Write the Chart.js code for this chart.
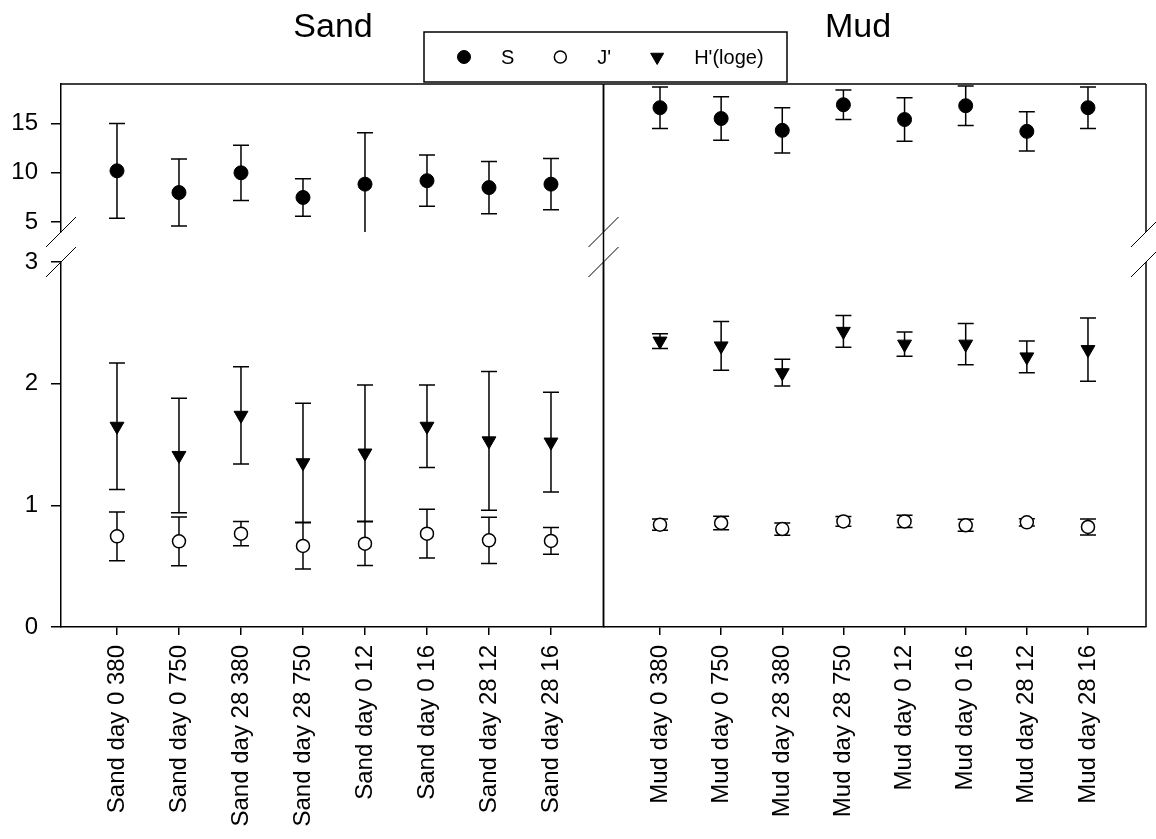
<!DOCTYPE html>
<html>
<head>
<meta charset="utf-8">
<script src="https://cdn.jsdelivr.net/npm/chart.js@4"></script>
<style>
    body { margin: 0; background: #fff; }
    #wrap { width: 1156px; height: 839px; }
</style>
</head>
<body>
<div id="wrap"><canvas id="diversityChart" width="1156" height="839"></canvas></div>
<script>
const sandLabels = ['Sand day 0 380', 'Sand day 0 750', 'Sand day 28 380', 'Sand day 28 750',
    'Sand day 0 12', 'Sand day 0 16', 'Sand day 28 12', 'Sand day 28 16'];
const mudLabels = ['Mud day 0 380', 'Mud day 0 750', 'Mud day 28 380', 'Mud day 28 750',
    'Mud day 0 12', 'Mud day 0 16', 'Mud day 28 12', 'Mud day 28 16'];

// S (species number), upper part of the broken axis
const sandS = [10.2, 8.0, 10.0, 7.5, 8.85, 9.2, 8.5, 8.85];
const sandSErr = [4.8, 3.4, 2.8, 1.9, 5.2, 2.6, 2.65, 2.6];
const mudS = [16.6, 15.5, 14.3, 16.9, 15.4, 16.8, 14.2, 16.6];
const mudSErr = [2.1, 2.2, 2.3, 1.5, 2.2, 2.0, 2.0, 2.1];

// J' (evenness)
const sandJ = [0.745, 0.704, 0.767, 0.666, 0.685, 0.767, 0.712, 0.707];
const sandJErr = [0.2, 0.2, 0.1, 0.19, 0.18, 0.2, 0.19, 0.11];
const mudJ = [0.841, 0.855, 0.805, 0.868, 0.868, 0.836, 0.86, 0.822];
const mudJErr = [0.046, 0.055, 0.05, 0.04, 0.05, 0.05, 0.03, 0.065];

// H'(loge)
const sandH = [1.65, 1.41, 1.74, 1.35, 1.43, 1.65, 1.53, 1.52];
const sandHErr = [0.52, 0.47, 0.40, 0.49, 0.56, 0.34, 0.57, 0.41];
const mudH = [2.35, 2.31, 2.09, 2.43, 2.325, 2.325, 2.22, 2.28];
const mudHErr = [0.06, 0.2, 0.11, 0.13, 0.1, 0.17, 0.13, 0.26];

const upperTicks = [5, 10, 15];
const lowerTicks = [0, 1, 2, 3];
const panelTitles = ['Sand', 'Mud'];

const FONT = 'Arial, "Liberation Sans", sans-serif';
Chart.defaults.color = '#000';
Chart.defaults.font.family = FONT;

const toPoints = arr => arr.map((v, i) => ({ x: i + 1, y: v }));

const styleS = { pointStyle: 'circle', pointRadius: 7, backgroundColor: '#000', borderColor: '#000', borderWidth: 1 };
const styleJ = { pointStyle: 'circle', pointRadius: 6.5, backgroundColor: '#fff', borderColor: '#000', borderWidth: 1.5 };
const styleH = { pointStyle: 'triangle', pointRadius: 8, pointRotation: 180, backgroundColor: '#000', borderColor: '#000', borderWidth: 1 };

// error bars, drawn before the markers so the open circles cover them
const errorBars = {
    id: 'errorBars',
    beforeDatasetsDraw(chart) {
        const ctx = chart.ctx;
        ctx.save();
        ctx.strokeStyle = '#000';
        ctx.lineWidth = 1.5;
        chart.data.datasets.forEach((ds, di) => {
            const meta = chart.getDatasetMeta(di);
            const yScale = chart.scales[ds.yAxisID];
            meta.data.forEach((pt, i) => {
                const v = ds.data[i].y, e = ds.errors[i];
                let top = yScale.getPixelForValue(v + e);
                let bot = yScale.getPixelForValue(v - e);
                const topCut = top < yScale.top, botCut = bot > yScale.bottom;
                top = Math.max(top, yScale.top);
                bot = Math.min(bot, yScale.bottom);
                ctx.beginPath();
                ctx.moveTo(pt.x, top);
                ctx.lineTo(pt.x, bot);
                if (!topCut) { ctx.moveTo(pt.x - 8, top); ctx.lineTo(pt.x + 8, top); }
                if (!botCut) { ctx.moveTo(pt.x - 8, bot); ctx.lineTo(pt.x + 8, bot); }
                ctx.stroke();
            });
        });
        ctx.restore();
    }
};

// panel frames, axis breaks, titles and the boxed legend
const decorations = {
    id: 'decorations',
    afterDraw(chart) {
        const { ctx, chartArea } = chart;
        const { xs, xm, yUp, yLow } = chart.scales;
        const top = chartArea.top, bottom = chartArea.bottom;
        const line = (x1, y1, x2, y2) => { ctx.beginPath(); ctx.moveTo(x1, y1); ctx.lineTo(x2, y2); ctx.stroke(); };

        ctx.save();
        ctx.strokeStyle = '#000';
        ctx.lineWidth = 1.5;
        line(xs.left, top, xs.right, top);
        line(xs.right, top, xs.right, bottom);
        line(xm.left, top, xm.right, top);
        [xm.left, xm.right].forEach(x => {
            line(x, top, x, yUp.bottom);
            line(x, yLow.top, x, bottom);
        });
        ctx.lineWidth = 1;
        [xs.left, xm.left, xm.right].forEach(x => {
            [yUp.bottom, yLow.top].forEach(y => line(x - 15, y + 15, x + 15, y - 15));
        });

        // titles
        ctx.fillStyle = '#000';
        ctx.font = '34px ' + FONT;
        ctx.textAlign = 'center';
        ctx.textBaseline = 'middle';
        ctx.fillText(panelTitles[0], 333, 28);
        ctx.fillText(panelTitles[1], 858, 28);

        // legend
        ctx.fillStyle = '#fff';
        ctx.fillRect(424, 32, 363, 50);
        ctx.lineWidth = 1.5;
        ctx.strokeRect(424, 32, 363, 50);
        ctx.font = '20px ' + FONT;
        ctx.textAlign = 'left';
        let x = 464;
        chart.data.datasets.slice(0, 3).forEach(ds => {
            ctx.fillStyle = ds.backgroundColor;
            ctx.strokeStyle = ds.borderColor;
            ctx.lineWidth = ds.borderWidth;
            Chart.helpers.drawPoint(ctx, {
                pointStyle: ds.pointStyle,
                radius: ds.pointRadius - 0.5,
                rotation: ds.pointRotation || 0,
                borderWidth: ds.borderWidth
            }, x, 57);
            ctx.fillStyle = '#000';
            ctx.fillText(ds.label, x + 37, 58);
            x += 37 + ctx.measureText(ds.label).width + 46;
        });
        ctx.restore();
    }
};

const xAxis = (labels, min, max, weight) => ({
    type: 'linear',
    position: 'bottom',
    stack: 'x',
    stackWeight: 1,
    weight: weight,
    min: min,
    max: max,
    afterBuildTicks: s => { s.ticks = labels.map((_, i) => ({ value: i + 1 })); },
    afterFit: s => { s.height = 212; s.paddingLeft = 0; s.paddingRight = 0; },
    ticks: {
        callback: (v, i) => labels[i],
        minRotation: 90,
        maxRotation: 90,
        autoSkip: false,
        padding: 10,
        font: { size: 24, family: FONT },
        color: '#000'
    },
    grid: { drawOnChartArea: false, tickLength: 8, color: '#000', lineWidth: 1.5 },
    border: { color: '#000', width: 1.5 }
});

const yAxis = (tickValues, min, max, stackWeight, weight) => ({
    type: 'linear',
    position: 'left',
    stack: 'y',
    stackWeight: stackWeight,
    weight: weight,
    min: min,
    max: max,
    afterBuildTicks: s => { s.ticks = tickValues.map(v => ({ value: v })); },
    afterFit: s => { s.width = 61; s.paddingTop = 0; s.paddingBottom = 0; },
    ticks: { padding: 13, font: { size: 24, family: FONT }, color: '#000' },
    grid: { drawOnChartArea: false, tickLength: 10, color: '#000', lineWidth: 1.5 },
    border: { color: '#000', width: 1.5 }
});

const ctx = document.getElementById('diversityChart').getContext('2d');
const diversityChart = new Chart(ctx, {
    type: 'scatter',
    data: {
        datasets: [
            { label: 'S', data: toPoints(sandS), errors: sandSErr, xAxisID: 'xs', yAxisID: 'yUp', ...styleS },
            { label: "J'", data: toPoints(sandJ), errors: sandJErr, xAxisID: 'xs', yAxisID: 'yLow', ...styleJ },
            { label: "H'(loge)", data: toPoints(sandH), errors: sandHErr, xAxisID: 'xs', yAxisID: 'yLow', ...styleH },
            { label: 'S', data: toPoints(mudS), errors: mudSErr, xAxisID: 'xm', yAxisID: 'yUp', ...styleS },
            { label: "J'", data: toPoints(mudJ), errors: mudJErr, xAxisID: 'xm', yAxisID: 'yLow', ...styleJ },
            { label: "H'(loge)", data: toPoints(mudH), errors: mudHErr, xAxisID: 'xm', yAxisID: 'yLow', ...styleH }
        ]
    },
    options: {
        responsive: false,
        animation: false,
        events: [],
        layout: { padding: { top: 84, right: 10, left: 0, bottom: 0 } },
        plugins: {
            legend: { display: false },
            tooltip: { enabled: false }
        },
        scales: {
            xs: xAxis(sandLabels, 0.097, 8.847, 0),
            xm: xAxis(mudLabels, 0.076, 8.949, 1),
            yUp: yAxis(upperTicks, 4, 19, 148, 3),
            yGap: {
                type: 'linear', position: 'left', stack: 'y', stackWeight: 30, weight: 2,
                min: 0, max: 1,
                afterFit: s => { s.width = 61; },
                ticks: { display: false },
                grid: { display: false },
                border: { display: false }
            },
            yLow: yAxis(lowerTicks, 0, 3, 365, 1)
        }
    },
    plugins: [errorBars, decorations]
});
</script>
</body>
</html>
